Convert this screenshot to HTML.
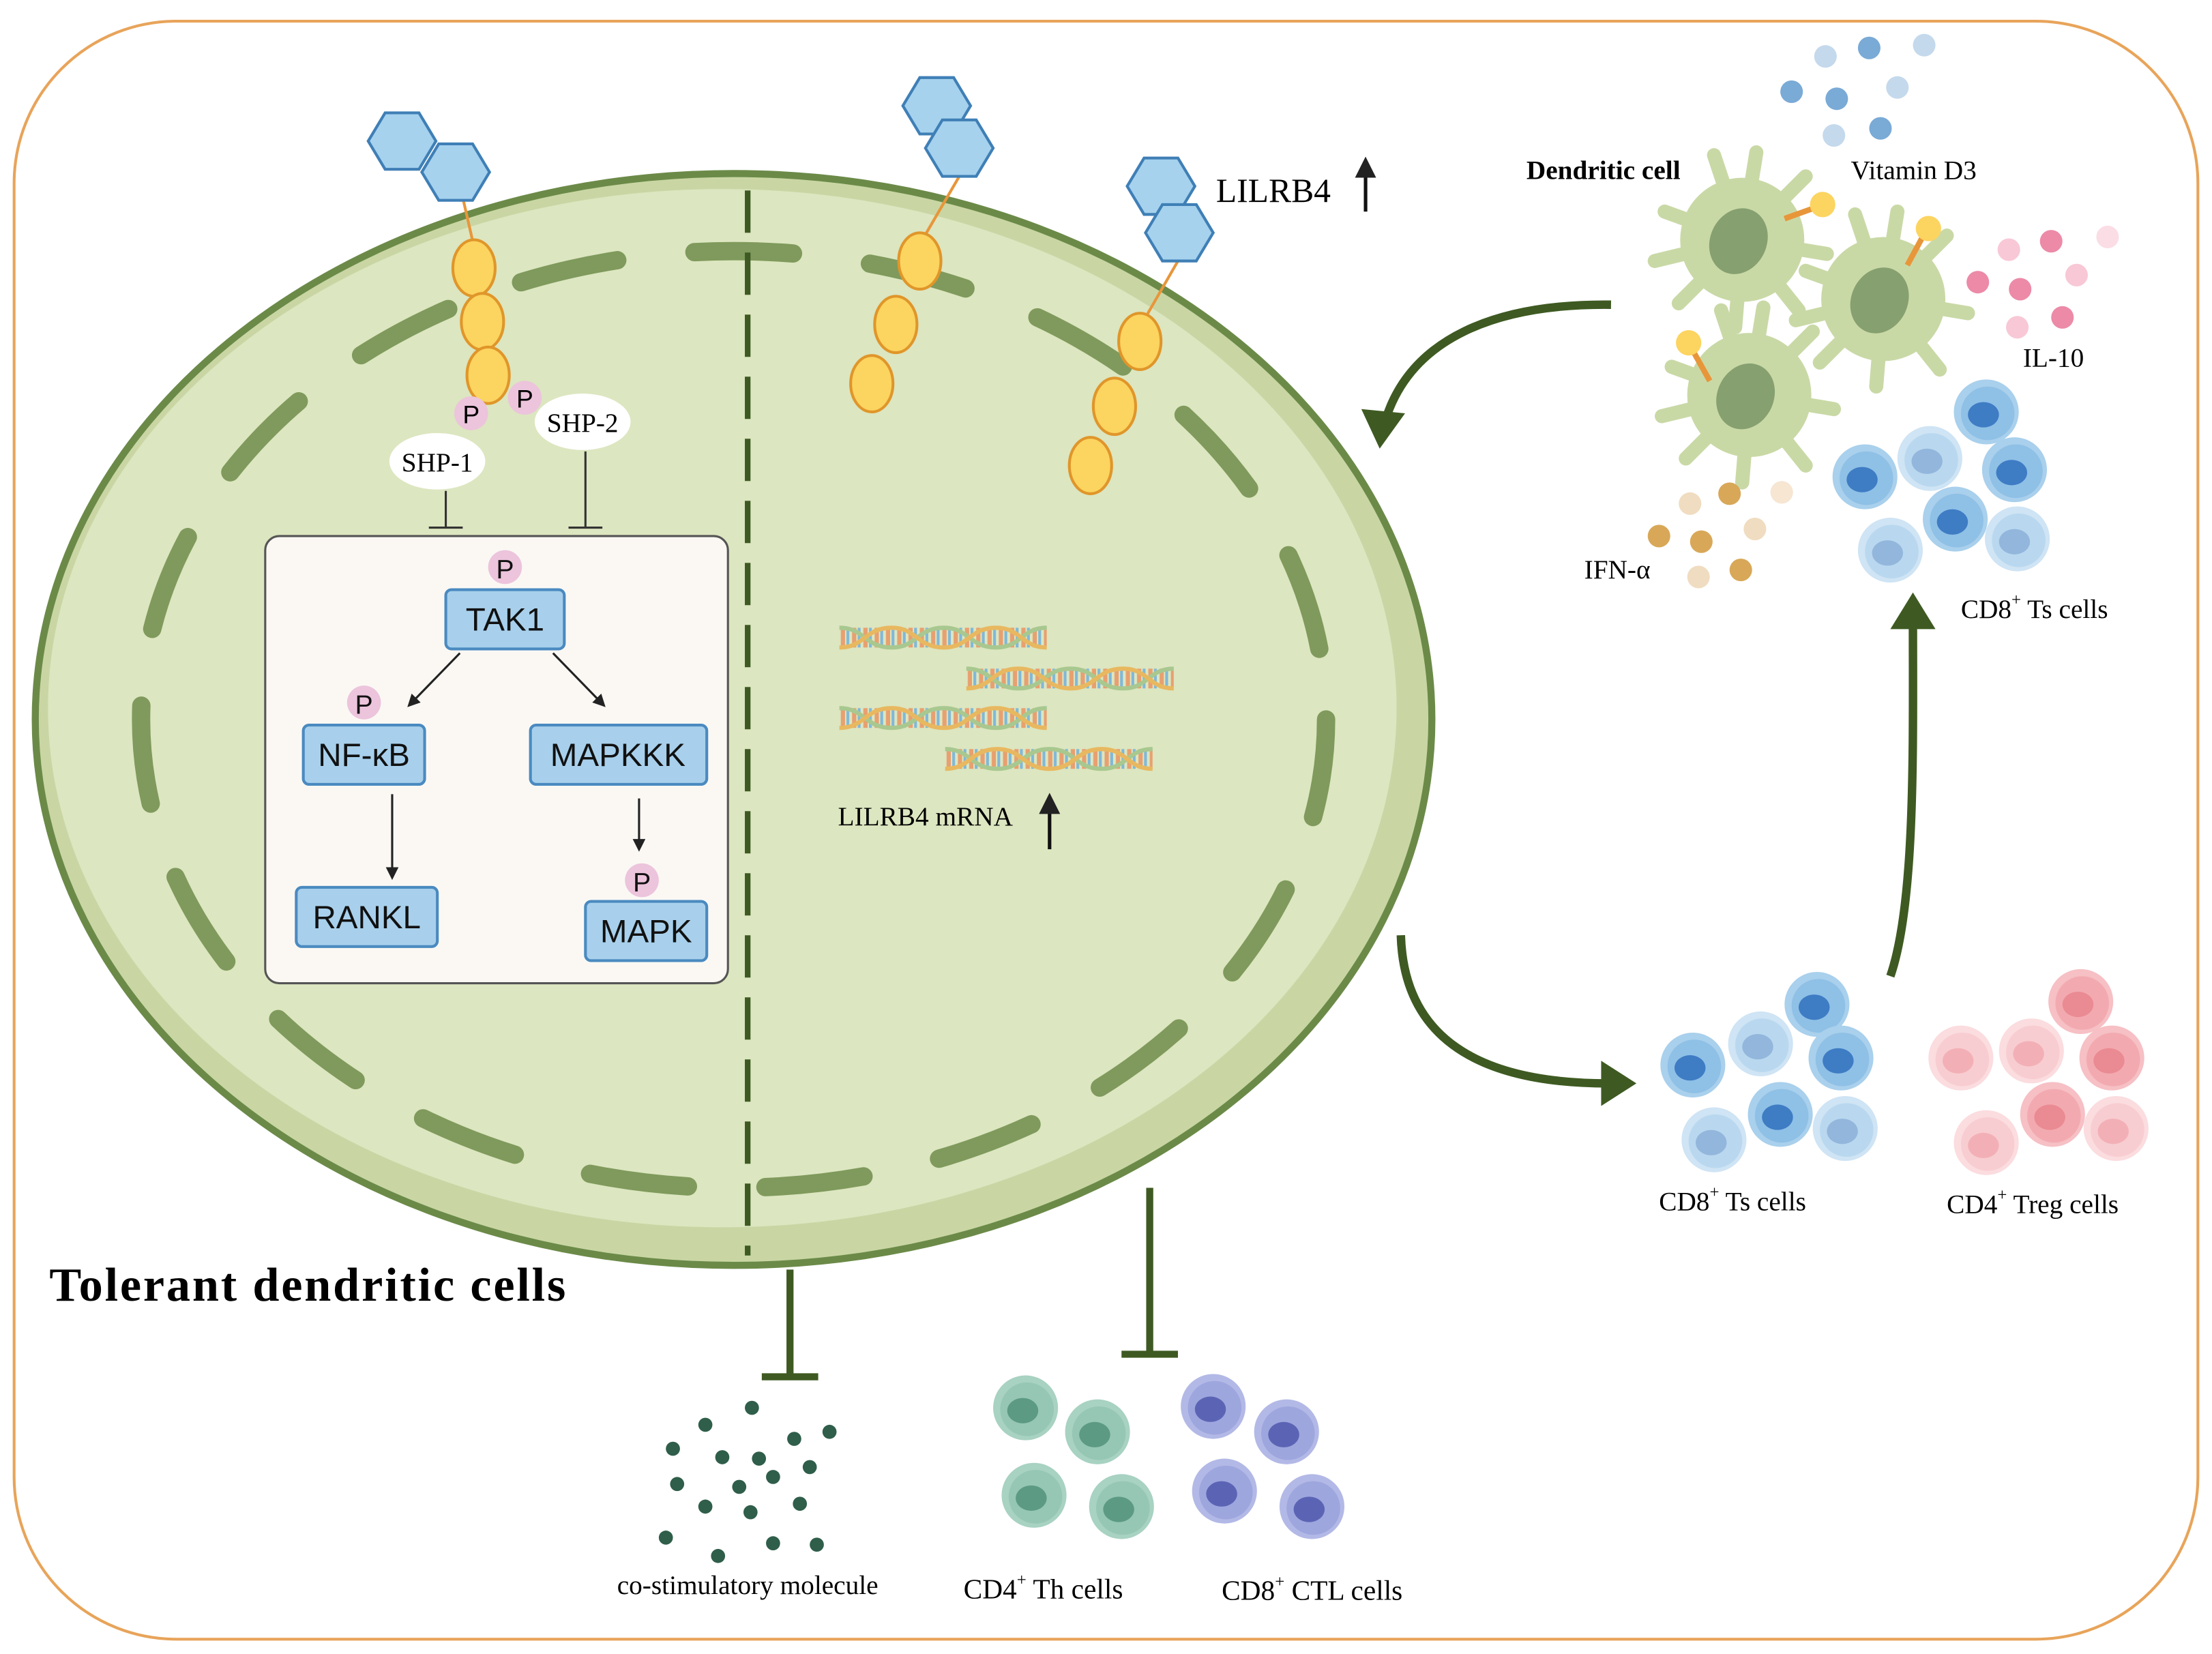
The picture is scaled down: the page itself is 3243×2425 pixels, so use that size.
<!DOCTYPE html>
<html><head><meta charset="utf-8"><style>html,body{margin:0;padding:0;background:#fff}svg{display:block}</style></head>
<body>
<svg width="3243" height="2425" viewBox="0 0 1568 1172.5" xmlns="http://www.w3.org/2000/svg" font-family="Liberation Serif, serif">
<defs>
<g id="ts"><circle r="23" fill="#a9d0ec"/><circle r="19" cx="1" cy="1" fill="#8fc0e6"/><ellipse cx="-2" cy="2" rx="11" ry="9" fill="#3e7cc4"/></g>
<g id="tsl"><circle r="23" fill="#cfe4f4"/><circle r="19" cx="1" cy="1" fill="#b9d8ef"/><ellipse cx="-2" cy="2" rx="11" ry="9" fill="#93b6dc"/></g>
<g id="tr"><circle r="23" fill="#f6c0c4"/><circle r="19" cx="1" cy="1" fill="#f2aab0"/><ellipse cx="-2" cy="2" rx="11" ry="9" fill="#ea8a92"/></g>
<g id="trl"><circle r="23" fill="#fbdcdf"/><circle r="19" cx="1" cy="1" fill="#f8cdd1"/><ellipse cx="-2" cy="2" rx="11" ry="9" fill="#f2b0b6"/></g>
<g id="th"><circle r="23" fill="#a8d2c2"/><circle r="19" cx="1" cy="1" fill="#96c7b4"/><ellipse cx="-2" cy="2" rx="11" ry="9" fill="#5c9a84"/></g>
<g id="ctl"><circle r="23" fill="#b3b9e6"/><circle r="19" cx="1" cy="1" fill="#9ea6de"/><ellipse cx="-2" cy="2" rx="11" ry="9" fill="#5b64b4"/></g>
<g id="dc"><g stroke="#c9d9a6" stroke-width="10" stroke-linecap="round"><line x1="0" y1="0" x2="-55" y2="-20"/><line x1="0" y1="0" x2="-20" y2="-60"/><line x1="0" y1="0" x2="10" y2="-62"/><line x1="0" y1="0" x2="45" y2="-45"/><line x1="0" y1="0" x2="60" y2="10"/><line x1="0" y1="0" x2="40" y2="50"/><line x1="0" y1="0" x2="-5" y2="62"/><line x1="0" y1="0" x2="-45" y2="45"/><line x1="0" y1="0" x2="-62" y2="15"/></g><circle r="44" fill="#c9d9a6"/><ellipse cx="-2" cy="2" rx="20" ry="24" transform="rotate(25)" fill="#86a070"/></g>
<g id="hex"><polygon points="-24,0 -12,-20 12,-20 24,0 12,20 -12,20" fill="#a6d2ee" stroke="#3f7fb6" stroke-width="2"/></g>
<g id="yel"><ellipse rx="15" ry="20" fill="#fcd460" stroke="#e0962a" stroke-width="2"/></g>
<pattern id="dna" width="8" height="22" patternUnits="userSpaceOnUse"><rect x="1" y="4" width="3" height="14" fill="#e8a070"/><rect x="5" y="4" width="2" height="14" fill="#80b8d8"/></pattern>
<g id="dnag"><rect x="0" y="0" width="147" height="22" fill="url(#dna)"/><path d="M0,4 C18,4 18,18 37,18 C55,18 55,4 74,4 C92,4 92,18 111,18 C129,18 129,4 147,4" fill="none" stroke="#a8c890" stroke-width="3"/><path d="M0,18 C18,18 18,4 37,4 C55,4 55,18 74,18 C92,18 92,4 111,4 C129,4 129,18 147,18" fill="none" stroke="#e8b860" stroke-width="3"/></g>
<marker id="ah" viewBox="0 0 10 10" refX="8" refY="5" markerWidth="6" markerHeight="6" orient="auto"><path d="M0,0 L10,5 L0,10 z" fill="#222"/></marker>
</defs>
<rect x="10" y="15" width="1548" height="1147" rx="115" fill="#fff" stroke="#e8a45a" stroke-width="2"/>
<!-- cell -->
<ellipse cx="520" cy="510" rx="495" ry="387" fill="#c9d6a4" stroke="#6b8a48" stroke-width="5"/>
<ellipse cx="512" cy="502" rx="478" ry="368" fill="#dce6c0"/>
<ellipse cx="520" cy="510" rx="420" ry="332" fill="none" stroke="#7f9a5c" stroke-width="13" stroke-linecap="round" stroke-dasharray="70 55"/>
<line x1="530" y1="135" x2="530" y2="890" stroke="#3e5a22" stroke-width="4" stroke-dasharray="30 14"/>
<!-- receptors -->
<line x1="328" y1="140" x2="336" y2="175" stroke="#e8963a" stroke-width="2"/>
<use href="#hex" x="285" y="100"/><use href="#hex" x="323" y="122"/>
<use href="#yel" x="336" y="190"/><use href="#yel" x="342" y="228"/><use href="#yel" x="346" y="266"/>
<line x1="680" y1="125" x2="655" y2="168" stroke="#e8963a" stroke-width="2"/>
<use href="#hex" x="664" y="75"/><use href="#hex" x="680" y="105"/>
<use href="#yel" x="652" y="185"/><use href="#yel" x="635" y="230"/><use href="#yel" x="618" y="272"/>
<line x1="835" y1="185" x2="812" y2="225" stroke="#e8963a" stroke-width="2"/>
<use href="#hex" x="823" y="132"/><use href="#hex" x="836" y="165"/>
<use href="#yel" x="808" y="242"/><use href="#yel" x="790" y="288"/><use href="#yel" x="773" y="330"/>
<text x="862" y="143" font-size="24">LILRB4</text>
<line x1="968" y1="150" x2="968" y2="114" stroke="#111" stroke-width="2.5" marker-end="url(#ah)"/>
<!-- P and SHP -->
<circle cx="334" cy="293" r="12" fill="#ecc4dc"/><text x="334" y="300" font-size="18" text-anchor="middle" font-family="Liberation Sans, sans-serif">P</text>
<circle cx="372" cy="282" r="12" fill="#ecc4dc"/><text x="372" y="289" font-size="18" text-anchor="middle" font-family="Liberation Sans, sans-serif">P</text>
<ellipse cx="310" cy="327" rx="34" ry="20" fill="#fff"/><text x="310" y="334" font-size="19" text-anchor="middle">SHP-1</text>
<ellipse cx="413" cy="299" rx="34" ry="20" fill="#fff"/><text x="413" y="306" font-size="19" text-anchor="middle">SHP-2</text>
<g stroke="#333" stroke-width="1.5"><line x1="316" y1="348" x2="316" y2="374"/><line x1="304" y1="374" x2="328" y2="374"/><line x1="415" y1="320" x2="415" y2="374"/><line x1="403" y1="374" x2="427" y2="374"/></g>
<!-- box -->
<rect x="188" y="380" width="328" height="317" rx="10" fill="#fbf8f4" stroke="#555" stroke-width="1.5"/>
<g font-family="Liberation Sans, sans-serif" font-size="23" text-anchor="middle" fill="#111">
<circle cx="358" cy="402" r="12" fill="#ecc4dc"/><text x="358" y="410" font-size="19">P</text>
<rect x="316" y="418" width="84" height="42" rx="4" fill="#a8d0ec" stroke="#4a8ac0" stroke-width="2"/><text x="358" y="447">TAK1</text>
<circle cx="258" cy="498" r="12" fill="#ecc4dc"/><text x="258" y="506" font-size="19">P</text>
<rect x="215" y="514" width="86" height="42" rx="4" fill="#a8d0ec" stroke="#4a8ac0" stroke-width="2"/><text x="258" y="543">NF-κB</text>
<rect x="376" y="514" width="125" height="42" rx="4" fill="#a8d0ec" stroke="#4a8ac0" stroke-width="2"/><text x="438" y="543">MAPKKK</text>
<rect x="210" y="629" width="100" height="42" rx="4" fill="#a8d0ec" stroke="#4a8ac0" stroke-width="2"/><text x="260" y="658">RANKL</text>
<circle cx="455" cy="624" r="12" fill="#ecc4dc"/><text x="455" y="632" font-size="19">P</text>
<rect x="415" y="639" width="86" height="42" rx="4" fill="#a8d0ec" stroke="#4a8ac0" stroke-width="2"/><text x="458" y="668">MAPK</text>
</g>
<g stroke="#222" stroke-width="1.5" marker-end="url(#ah)"><line x1="326" y1="463" x2="290" y2="500"/><line x1="392" y1="463" x2="428" y2="500"/><line x1="278" y1="563" x2="278" y2="622"/><line x1="453" y1="566" x2="453" y2="602"/></g>
<!-- DNA -->
<use href="#dnag" x="595" y="441"/><use href="#dnag" x="685" y="470"/><use href="#dnag" x="595" y="498"/><use href="#dnag" x="670" y="527"/>
<text x="594" y="585" font-size="19">LILRB4 mRNA</text>
<line x1="744" y1="602" x2="744" y2="565" stroke="#111" stroke-width="2.5" marker-end="url(#ah)"/>
<text x="35" y="922" font-size="34" font-weight="bold" textLength="366">Tolerant dendritic cells</text>
<!-- inhibitions -->
<g stroke="#3e5a22" stroke-width="5"><line x1="560" y1="900" x2="560" y2="976"/><line x1="540" y1="976" x2="580" y2="976"/><line x1="815" y1="842" x2="815" y2="960"/><line x1="795" y1="960" x2="835" y2="960"/></g>
<g fill="#2f5e4a"><circle cx="533" cy="998" r="5"/><circle cx="500" cy="1010" r="5"/><circle cx="563" cy="1020" r="5"/><circle cx="588" cy="1015" r="5"/><circle cx="477" cy="1027" r="5"/><circle cx="512" cy="1033" r="5"/><circle cx="538" cy="1034" r="5"/><circle cx="548" cy="1047" r="5"/><circle cx="480" cy="1052" r="5"/><circle cx="524" cy="1054" r="5"/><circle cx="574" cy="1040" r="5"/><circle cx="500" cy="1068" r="5"/><circle cx="532" cy="1072" r="5"/><circle cx="567" cy="1066" r="5"/><circle cx="472" cy="1090" r="5"/><circle cx="548" cy="1094" r="5"/><circle cx="579" cy="1095" r="5"/><circle cx="509" cy="1103" r="5"/></g>
<text x="530" y="1130" font-size="19" text-anchor="middle">co-stimulatory molecule</text>
<use href="#th" x="727" y="998"/><use href="#th" x="778" y="1015"/><use href="#th" x="733" y="1060"/><use href="#th" x="795" y="1068"/>
<use href="#ctl" x="860" y="997"/><use href="#ctl" x="912" y="1015"/><use href="#ctl" x="868" y="1057"/><use href="#ctl" x="930" y="1068"/>
<text x="683" y="1133" font-size="20">CD4<tspan font-size="12" dy="-9">+</tspan><tspan dy="9"> Th cells</tspan></text>
<text x="866" y="1134" font-size="20">CD8<tspan font-size="12" dy="-9">+</tspan><tspan dy="9"> CTL cells</tspan></text>
<!-- green arrows -->
<g fill="none" stroke="#3e5a22" stroke-width="6"><path d="M1142,216 C1060,215 1000,240 982,298"/><path d="M993,663 C995,730 1040,768 1140,768"/><path d="M1340,692 C1358,640 1356,530 1356,440"/></g>
<g fill="#3e5a22"><polygon points="965,290 996,293 978,318"/><polygon points="1135,752 1160,768 1135,784"/><polygon points="1340,446 1356,420 1372,446"/></g>
<!-- right top -->
<g fill="#7aaad6"><circle cx="1294" cy="40" r="8" fill="#c4d9ec"/><circle cx="1325" cy="34" r="8"/><circle cx="1364" cy="32" r="8" fill="#c4d9ec"/><circle cx="1270" cy="65" r="8"/><circle cx="1302" cy="70" r="8"/><circle cx="1345" cy="62" r="8" fill="#c4d9ec"/><circle cx="1300" cy="96" r="8" fill="#c4d9ec"/><circle cx="1333" cy="91" r="8"/></g>
<use href="#dc" x="1235" y="170"/><use href="#dc" x="1335" y="212"/><use href="#dc" x="1240" y="280"/>
<g stroke="#e8963a" stroke-width="4"><line x1="1265" y1="155" x2="1290" y2="146"/><line x1="1352" y1="188" x2="1365" y2="164"/><line x1="1212" y1="270" x2="1198" y2="245"/></g>
<g fill="#fcd460"><circle cx="1292" cy="145" r="9"/><circle cx="1367" cy="162" r="9"/><circle cx="1197" cy="243" r="9"/></g>
<text x="1082" y="127" font-size="19" font-weight="bold">Dendritic cell</text>
<text x="1312" y="127" font-size="19">Vitamin D3</text>
<g fill="#ec8aa8"><circle cx="1424" cy="177" r="8" fill="#f8c8d6"/><circle cx="1454" cy="171" r="8"/><circle cx="1494" cy="168" r="8" fill="#fbdde6"/><circle cx="1402" cy="200" r="8"/><circle cx="1432" cy="205" r="8"/><circle cx="1472" cy="195" r="8" fill="#f8c8d6"/><circle cx="1430" cy="232" r="8" fill="#f8c8d6"/><circle cx="1462" cy="225" r="8"/></g>
<text x="1434" y="260" font-size="19">IL-10</text>
<g fill="#d8a858"><circle cx="1198" cy="357" r="8" fill="#f0dcc0"/><circle cx="1226" cy="350" r="8"/><circle cx="1263" cy="349" r="8" fill="#f6e6d2"/><circle cx="1176" cy="380" r="8"/><circle cx="1206" cy="384" r="8"/><circle cx="1244" cy="375" r="8" fill="#f0dcc0"/><circle cx="1204" cy="409" r="8" fill="#f0dcc0"/><circle cx="1234" cy="404" r="8"/></g>
<text x="1123" y="410" font-size="19">IFN-α</text>
<use href="#ts" x="1408" y="292"/><use href="#ts" x="1322" y="338"/><use href="#tsl" x="1368" y="325"/><use href="#ts" x="1428" y="333"/><use href="#ts" x="1386" y="368"/><use href="#tsl" x="1340" y="390"/><use href="#tsl" x="1430" y="382"/>
<text x="1390" y="438" font-size="19">CD8<tspan font-size="12" dy="-9">+</tspan><tspan dy="9"> Ts cells</tspan></text>
<use href="#ts" x="1288" y="712"/><use href="#ts" x="1200" y="755"/><use href="#tsl" x="1248" y="740"/><use href="#ts" x="1305" y="750"/><use href="#ts" x="1262" y="790"/><use href="#tsl" x="1215" y="808"/><use href="#tsl" x="1308" y="800"/>
<use href="#tr" x="1475" y="710"/><use href="#trl" x="1390" y="750"/><use href="#trl" x="1440" y="745"/><use href="#tr" x="1497" y="750"/><use href="#tr" x="1455" y="790"/><use href="#trl" x="1408" y="810"/><use href="#trl" x="1500" y="800"/>
<text x="1176" y="858" font-size="19">CD8<tspan font-size="12" dy="-9">+</tspan><tspan dy="9"> Ts cells</tspan></text>
<text x="1380" y="860" font-size="19">CD4<tspan font-size="12" dy="-9">+</tspan><tspan dy="9"> Treg cells</tspan></text>
</svg>
</body></html>
